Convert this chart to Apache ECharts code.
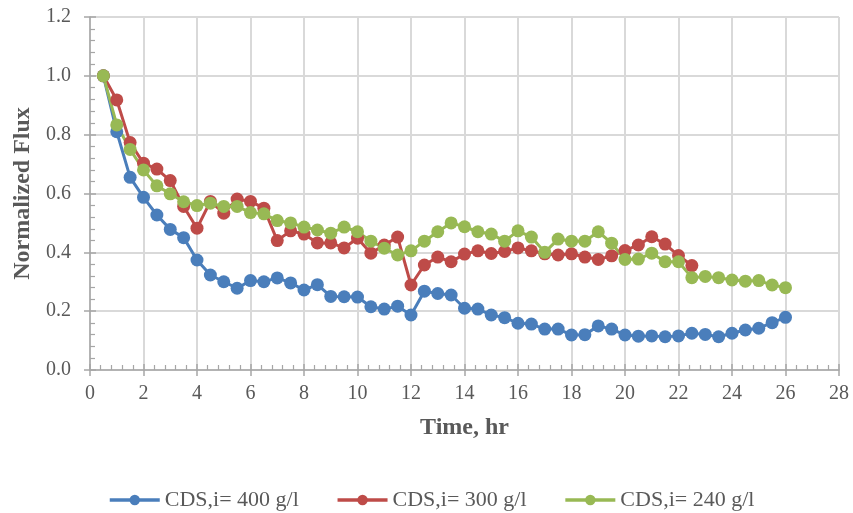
<!DOCTYPE html>
<html>
<head>
<meta charset="utf-8">
<script src="https://cdn.jsdelivr.net/npm/echarts@6/dist/echarts.min.js"></script>
<style>
  html, body { margin: 0; padding: 0; background: #ffffff; }
  #chart { width: 853px; height: 513px; }
</style>
</head>
<body>
<div id="chart"></div>
<script>
// Sampling times (hr), every half hour
const times = [0.5, 1, 1.5, 2, 2.5, 3, 3.5, 4, 4.5, 5, 5.5, 6, 6.5, 7, 7.5, 8, 8.5, 9, 9.5, 10,
  10.5, 11, 11.5, 12, 12.5, 13, 13.5, 14, 14.5, 15, 15.5, 16, 16.5, 17, 17.5, 18, 18.5, 19, 19.5, 20,
  20.5, 21, 21.5, 22, 22.5, 23, 23.5, 24, 24.5, 25, 25.5, 26];

const seriesNames = ['CDS,i= 400 g/l', 'CDS,i= 300 g/l', 'CDS,i= 240 g/l'];

// Normalized flux, CDS,i = 400 g/l
const flux400 = [1.00, 0.81, 0.655, 0.587, 0.527, 0.478, 0.45, 0.374, 0.323, 0.30, 0.278, 0.304, 0.30, 0.313,
  0.296, 0.272, 0.29, 0.25, 0.249, 0.248, 0.215, 0.207, 0.217, 0.187, 0.268, 0.26, 0.255, 0.21, 0.207,
  0.187, 0.178, 0.159, 0.156, 0.139, 0.139, 0.119, 0.12, 0.15, 0.139, 0.119, 0.115, 0.116, 0.113, 0.116,
  0.125, 0.121, 0.113, 0.125, 0.136, 0.142, 0.161, 0.179];

// Normalized flux, CDS,i = 300 g/l (run ends at 22.5 hr)
const flux300 = [1.00, 0.918, 0.773, 0.703, 0.683, 0.644, 0.556, 0.482, 0.573, 0.533, 0.581, 0.573, 0.55, 0.44,
  0.473, 0.462, 0.432, 0.432, 0.415, 0.448, 0.397, 0.425, 0.452, 0.289, 0.357, 0.384, 0.368, 0.394, 0.405,
  0.396, 0.403, 0.415, 0.405, 0.395, 0.391, 0.395, 0.384, 0.376, 0.388, 0.406, 0.425, 0.453, 0.428, 0.389,
  0.355];

// Normalized flux, CDS,i = 240 g/l
const flux240 = [1.00, 0.833, 0.75, 0.68, 0.626, 0.599, 0.572, 0.559, 0.567, 0.556, 0.556, 0.535, 0.531, 0.508,
  0.50, 0.486, 0.476, 0.465, 0.486, 0.47, 0.438, 0.414, 0.391, 0.405, 0.438, 0.47, 0.50, 0.487, 0.47,
  0.462, 0.438, 0.473, 0.452, 0.40, 0.445, 0.438, 0.438, 0.47, 0.431, 0.376, 0.377, 0.397, 0.368, 0.368,
  0.314, 0.318, 0.314, 0.306, 0.302, 0.304, 0.289, 0.28];

const colors = ['#4A7EBB', '#BE4B48', '#98B954'];
const serif = '"Liberation Serif", "Times New Roman", serif';
const axisGrey = '#a6a6a6';
const textGrey = '#595959';

function pairs(values) {
  return values.map((v, i) => [times[i], v]);
}

function lineSeries(name, values, color) {
  return {
    name: name,
    type: 'line',
    xAxisIndex: 0,
    yAxisIndex: 0,
    data: pairs(values),
    symbol: 'circle',
    symbolSize: 13,
    showSymbol: true,
    itemStyle: { color: color, borderWidth: 0 },
    lineStyle: { color: color, width: 3 },
    emphasis: { disabled: true },
    animation: false
  };
}

const gridBox = { left: 90, right: 14, top: 17, bottom: 143, containLabel: false };

// Main axes: labels, titles, gridlines and outward major ticks
const xMain = {
  type: 'value', gridIndex: 0, min: 0, max: 28, interval: 2,
  name: 'Time, hr', nameLocation: 'middle', nameGap: 46,
  nameTextStyle: { color: textGrey, fontFamily: serif, fontSize: 24, fontWeight: 'bold' },
  axisLine: { show: true, lineStyle: { color: axisGrey, width: 1.5 } },
  axisTick: { show: true, inside: false, length: 6, lineStyle: { color: axisGrey, width: 1.5 } },
  splitLine: { show: true, lineStyle: { color: '#d9d9d9', width: 2 } },
  axisLabel: { color: textGrey, fontFamily: serif, fontSize: 20, margin: 14 }
};
const yMain = {
  type: 'value', gridIndex: 0, min: 0, max: 1.2, interval: 0.2,
  name: 'Normalized Flux', nameLocation: 'middle', nameGap: 55,
  nameTextStyle: { color: textGrey, fontFamily: serif, fontSize: 24, fontWeight: 'bold' },
  axisLine: { show: true, lineStyle: { color: axisGrey, width: 1.5 } },
  axisTick: { show: true, inside: false, length: 6, lineStyle: { color: axisGrey, width: 1.5 } },
  splitLine: { show: true, lineStyle: { color: '#d9d9d9', width: 2 } },
  axisLabel: { color: textGrey, fontFamily: serif, fontSize: 20, margin: 19, formatter: v => v.toFixed(1) }
};

// Overlay axes on an identical grid: inward major and minor ticks only
const xTicks = {
  type: 'value', gridIndex: 1, min: 0, max: 28, interval: 2,
  axisLine: { show: false },
  axisTick: { show: true, inside: true, length: 6, lineStyle: { color: axisGrey, width: 1.5 } },
  minorTick: { show: true, splitNumber: 5, length: 5, lineStyle: { color: axisGrey, width: 1.2 } },
  splitLine: { show: false },
  axisLabel: { show: false }
};
const yTicks = {
  type: 'value', gridIndex: 1, min: 0, max: 1.2, interval: 0.2,
  axisLine: { show: false },
  axisTick: { show: true, inside: true, length: 6, lineStyle: { color: axisGrey, width: 1.5 } },
  minorTick: { show: true, splitNumber: 5, length: 5, lineStyle: { color: axisGrey, width: 1.2 } },
  splitLine: { show: false },
  axisLabel: { show: false }
};

const chart = echarts.init(document.getElementById('chart'), null, { renderer: 'canvas' });

chart.setOption({
  backgroundColor: '#ffffff',
  color: colors,
  animation: false,
  grid: [Object.assign({}, gridBox), Object.assign({}, gridBox)],
  xAxis: [xMain, xTicks],
  yAxis: [yMain, yTicks],
  legend: {
    top: 484,
    left: 103,
    itemWidth: 50,
    itemHeight: 13,
    itemGap: 37,
    lineStyle: { width: 3.5 },
    textStyle: { color: textGrey, fontFamily: serif, fontSize: 22 },
    data: seriesNames
  },
  series: [
    lineSeries(seriesNames[0], flux400, colors[0]),
    lineSeries(seriesNames[1], flux300, colors[1]),
    lineSeries(seriesNames[2], flux240, colors[2])
  ]
});
</script>
</body>
</html>
